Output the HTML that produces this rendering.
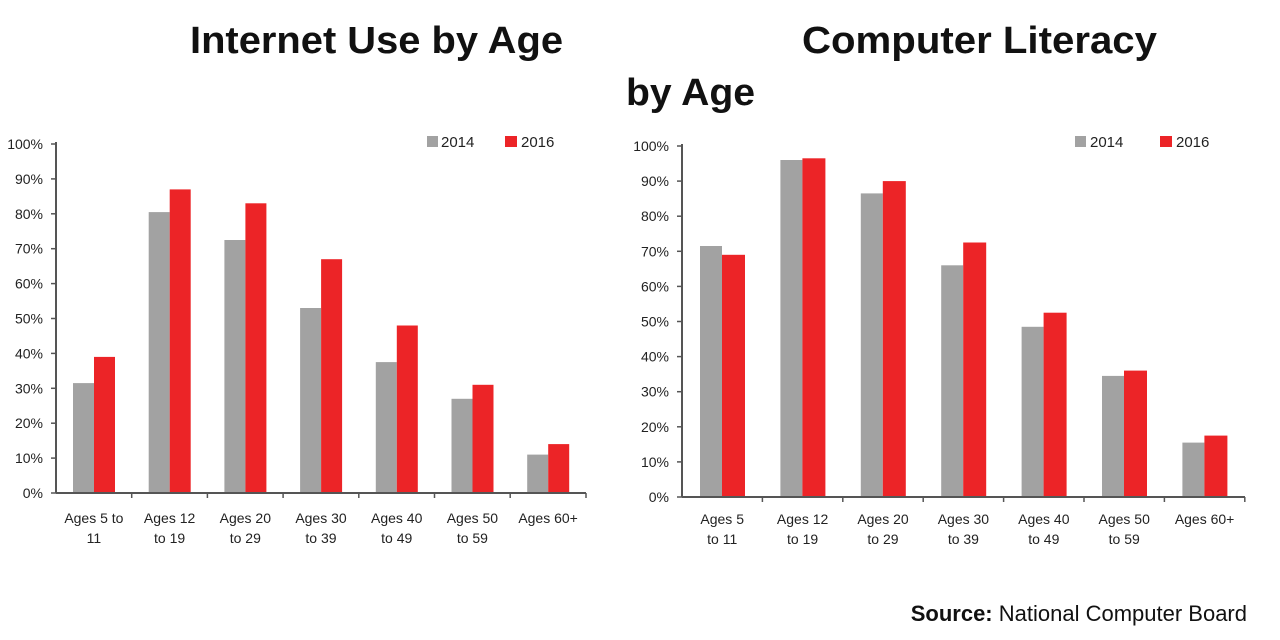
<!DOCTYPE html>
<html><head><meta charset="utf-8"><style>
html,body{margin:0;padding:0;background:#fff;}
svg{display:block;font-family:"Liberation Sans",sans-serif;}
</style></head><body>
<svg width="1280" height="640" viewBox="0 0 1280 640" xmlns="http://www.w3.org/2000/svg">
<rect width="1280" height="640" fill="#fff"/>
<g font-weight="bold" font-size="38" fill="#111">
<text x="190" y="53" textLength="373" lengthAdjust="spacingAndGlyphs">Internet Use by Age</text>
<text x="802" y="53" textLength="355" lengthAdjust="spacingAndGlyphs">Computer Literacy</text>
<text x="626" y="105" textLength="129" lengthAdjust="spacingAndGlyphs">by Age</text>
</g>
<text x="1247" y="621" text-anchor="end" font-size="22" fill="#111"><tspan font-weight="bold">Source:</tspan> National Computer Board</text>

<!-- LEFT CHART -->
<g fill="#a2a2a2">
<rect x="73" y="383.1" width="21" height="109.9"/>
<rect x="148.7" y="212.1" width="21" height="280.9"/>
<rect x="224.4" y="240" width="21" height="253"/>
<rect x="300.1" y="308" width="21" height="185"/>
<rect x="375.8" y="362.1" width="21" height="130.9"/>
<rect x="451.5" y="398.8" width="21" height="94.2"/>
<rect x="527.2" y="454.6" width="21" height="38.4"/>
</g>
<g fill="#ec2427">
<rect x="94" y="356.9" width="21" height="136.1"/>
<rect x="169.7" y="189.4" width="21" height="303.6"/>
<rect x="245.4" y="203.3" width="21" height="289.7"/>
<rect x="321.1" y="259.2" width="21" height="233.8"/>
<rect x="396.8" y="325.5" width="21" height="167.5"/>
<rect x="472.5" y="384.8" width="21" height="108.2"/>
<rect x="548.2" y="444.1" width="21" height="48.9"/>
</g>
<g stroke="#555" stroke-width="1.5">
<line x1="51" x2="56" y1="493" y2="493"/><line x1="51" x2="56" y1="458.1" y2="458.1"/><line x1="51" x2="56" y1="423.2" y2="423.2"/><line x1="51" x2="56" y1="388.3" y2="388.3"/><line x1="51" x2="56" y1="353.4" y2="353.4"/><line x1="51" x2="56" y1="318.5" y2="318.5"/><line x1="51" x2="56" y1="283.6" y2="283.6"/><line x1="51" x2="56" y1="248.7" y2="248.7"/><line x1="51" x2="56" y1="213.8" y2="213.8"/><line x1="51" x2="56" y1="178.9" y2="178.9"/><line x1="51" x2="56" y1="144" y2="144"/>
<line x1="131.7" x2="131.7" y1="493" y2="498"/><line x1="207.4" x2="207.4" y1="493" y2="498"/><line x1="283.1" x2="283.1" y1="493" y2="498"/><line x1="358.8" x2="358.8" y1="493" y2="498"/><line x1="434.5" x2="434.5" y1="493" y2="498"/><line x1="510.2" x2="510.2" y1="493" y2="498"/><line x1="586" x2="586" y1="493" y2="498"/>
</g>
<line x1="56" x2="56" y1="142" y2="493" stroke="#555" stroke-width="2"/>
<line x1="56" x2="586" y1="493" y2="493" stroke="#555" stroke-width="2"/>
<g font-size="14" fill="#222" text-anchor="end">
<text x="43" y="498">0%</text><text x="43" y="463.1">10%</text><text x="43" y="428.2">20%</text><text x="43" y="393.3">30%</text><text x="43" y="358.4">40%</text><text x="43" y="323.5">50%</text><text x="43" y="288.6">60%</text><text x="43" y="253.7">70%</text><text x="43" y="218.8">80%</text><text x="43" y="183.9">90%</text><text x="43" y="149">100%</text>
</g>
<g font-size="14" fill="#222" text-anchor="middle">
<text x="93.9" y="523">Ages 5 to</text><text x="93.9" y="543">11</text>
<text x="169.6" y="523">Ages 12</text><text x="169.6" y="543">to 19</text>
<text x="245.3" y="523">Ages 20</text><text x="245.3" y="543">to 29</text>
<text x="321" y="523">Ages 30</text><text x="321" y="543">to 39</text>
<text x="396.7" y="523">Ages 40</text><text x="396.7" y="543">to 49</text>
<text x="472.4" y="523">Ages 50</text><text x="472.4" y="543">to 59</text>
<text x="548.1" y="523">Ages 60+</text>
</g>
<rect x="427" y="136" width="11" height="11" fill="#a2a2a2"/><text x="441" y="147" font-size="15" fill="#222">2014</text>
<rect x="505" y="136" width="12" height="11" fill="#ec2427"/><text x="521" y="147" font-size="15" fill="#222">2016</text>

<!-- RIGHT CHART -->
<g fill="#a2a2a2">
<rect x="700" y="246" width="22" height="251"/>
<rect x="780.4" y="160" width="22" height="337"/>
<rect x="860.8" y="193.4" width="22" height="303.6"/>
<rect x="941.2" y="265.3" width="22" height="231.7"/>
<rect x="1021.6" y="326.8" width="22" height="170.2"/>
<rect x="1102" y="375.9" width="22" height="121.1"/>
<rect x="1182.4" y="442.6" width="22" height="54.4"/>
</g>
<g fill="#ec2427">
<rect x="722" y="254.8" width="23" height="242.2"/>
<rect x="802.4" y="158.3" width="23" height="338.7"/>
<rect x="882.8" y="181.1" width="23" height="315.9"/>
<rect x="963.2" y="242.5" width="23" height="254.5"/>
<rect x="1043.6" y="312.7" width="23" height="184.3"/>
<rect x="1124" y="370.6" width="23" height="126.4"/>
<rect x="1204.4" y="435.6" width="23" height="61.4"/>
</g>
<g stroke="#555" stroke-width="1.5">
<line x1="677" x2="682" y1="497" y2="497"/><line x1="677" x2="682" y1="461.9" y2="461.9"/><line x1="677" x2="682" y1="426.8" y2="426.8"/><line x1="677" x2="682" y1="391.7" y2="391.7"/><line x1="677" x2="682" y1="356.6" y2="356.6"/><line x1="677" x2="682" y1="321.5" y2="321.5"/><line x1="677" x2="682" y1="286.4" y2="286.4"/><line x1="677" x2="682" y1="251.3" y2="251.3"/><line x1="677" x2="682" y1="216.2" y2="216.2"/><line x1="677" x2="682" y1="181.1" y2="181.1"/><line x1="677" x2="682" y1="146" y2="146"/>
<line x1="762.4" x2="762.4" y1="497" y2="502"/><line x1="842.8" x2="842.8" y1="497" y2="502"/><line x1="923.2" x2="923.2" y1="497" y2="502"/><line x1="1003.6" x2="1003.6" y1="497" y2="502"/><line x1="1084" x2="1084" y1="497" y2="502"/><line x1="1164.4" x2="1164.4" y1="497" y2="502"/><line x1="1244.8" x2="1244.8" y1="497" y2="502"/>
</g>
<line x1="682" x2="682" y1="144" y2="497" stroke="#555" stroke-width="2"/>
<line x1="682" x2="1245" y1="497" y2="497" stroke="#555" stroke-width="2"/>
<g font-size="14" fill="#222" text-anchor="end">
<text x="669" y="502">0%</text><text x="669" y="466.9">10%</text><text x="669" y="431.8">20%</text><text x="669" y="396.7">30%</text><text x="669" y="361.6">40%</text><text x="669" y="326.5">50%</text><text x="669" y="291.4">60%</text><text x="669" y="256.3">70%</text><text x="669" y="221.2">80%</text><text x="669" y="186.1">90%</text><text x="669" y="151">100%</text>
</g>
<g font-size="14" fill="#222" text-anchor="middle">
<text x="722.2" y="524">Ages 5</text><text x="722.2" y="544">to 11</text>
<text x="802.6" y="524">Ages 12</text><text x="802.6" y="544">to 19</text>
<text x="883" y="524">Ages 20</text><text x="883" y="544">to 29</text>
<text x="963.4" y="524">Ages 30</text><text x="963.4" y="544">to 39</text>
<text x="1043.8" y="524">Ages 40</text><text x="1043.8" y="544">to 49</text>
<text x="1124.2" y="524">Ages 50</text><text x="1124.2" y="544">to 59</text>
<text x="1204.6" y="524">Ages 60+</text>
</g>
<rect x="1075" y="136" width="11" height="11" fill="#a2a2a2"/><text x="1090" y="147" font-size="15" fill="#222">2014</text>
<rect x="1160" y="136" width="12" height="11" fill="#ec2427"/><text x="1176" y="147" font-size="15" fill="#222">2016</text>
</svg>
</body></html>
